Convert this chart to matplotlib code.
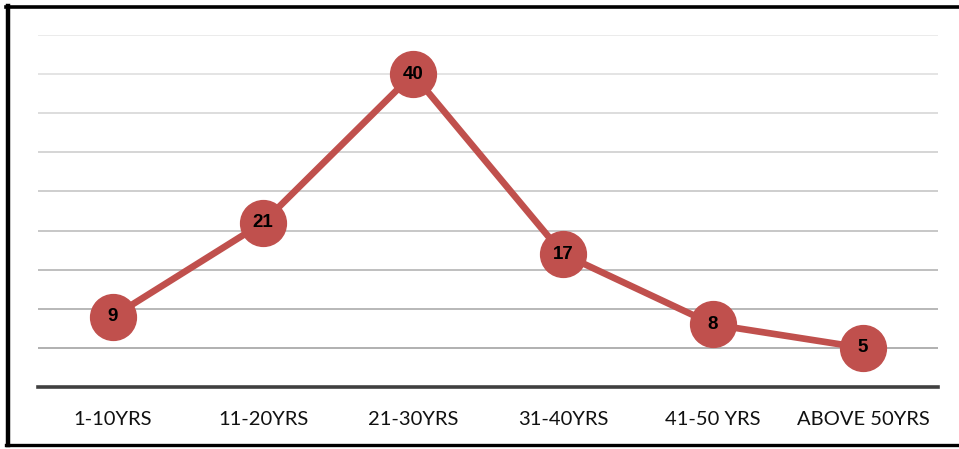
import matplotlib.pyplot as plt
from matplotlib.lines import Line2D
import numpy as np

categories = ["1-10YRS", "11-20YRS", "21-30YRS", "31-40YRS", "41-50 YRS", "ABOVE 50YRS"]
counts = [9, 21, 40, 17, 8, 5]
grid_levels = [5, 10, 15, 20, 25, 30, 35, 40, 45]

W, H = 959, 449
fig = plt.figure(figsize=(W / 100, H / 100), dpi=100)
ax = fig.add_axes([38 / W, 1 - 387 / H, 900 / W, 352 / H])

x = np.arange(len(categories))
red = "#C0504D"

# gridlines fade from darker near the axis to light at the top
shades = np.linspace(0.64, 0.91, len(grid_levels))
for lvl, s in zip(grid_levels, shades):
    ax.axhline(lvl, color=str(s), lw=1.2, zorder=0)

ax.plot(x, counts, color=red, lw=4.8, marker="o", markersize=33,
        markerfacecolor=red, markeredgecolor=red, zorder=3)
for xi, v in zip(x, counts):
    ax.text(xi, v, str(v), ha="center", va="center", fontsize=13.5,
            fontweight="bold", family="Liberation Sans", color="black", zorder=4)

ax.set_xlim(-0.5, len(categories) - 0.5)
ax.set_ylim(0, 45)
ax.set_yticks([])
ax.set_xticks(x)
ax.set_xticklabels(categories, fontsize=14.5, family="Lato", color="#111111")
ax.tick_params(axis="x", length=0, pad=17)
for side in ["top", "right", "left"]:
    ax.spines[side].set_visible(False)
ax.spines["bottom"].set_color("#404040")
ax.spines["bottom"].set_linewidth(2.6)
ax.patch.set_alpha(0)

# black frame on left, top and bottom
fig.add_artist(Line2D([7.5 / W, 7.5 / W], [1 - 6 / H, 1 - 445 / H], color="black", lw=3.2))
fig.add_artist(Line2D([6 / W, 1], [1 - 6.5 / H, 1 - 6.5 / H], color="black", lw=2.6))
fig.add_artist(Line2D([6 / W, 1], [1 - 445 / H, 1 - 445 / H], color="black", lw=2.4))

fig.savefig("out.png", dpi=100)
